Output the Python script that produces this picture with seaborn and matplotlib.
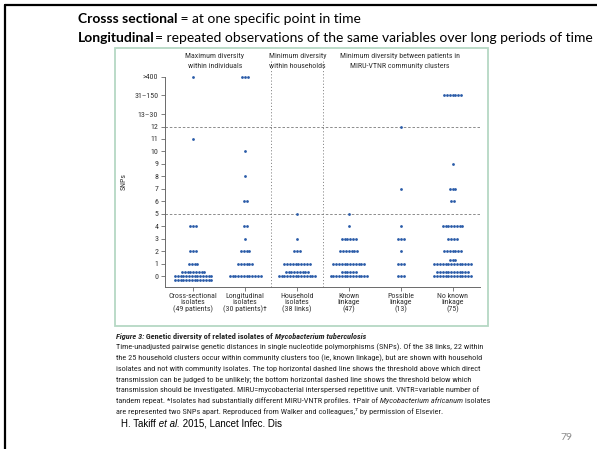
import matplotlib
matplotlib.use("Agg")
import matplotlib.pyplot as plt
import matplotlib.font_manager as fm
from matplotlib.patches import Rectangle
from matplotlib.lines import Line2D
import pandas as pd
import seaborn as sns

# ---------------------------------------------------------------- data
groups = ["Cross-sectional", "Longitudinal", "Household",
          "Known linkage", "Possible linkage", "No known linkage"]
group_labels = ["Cross-sectional\nisolates\n(49 patients)",
                "Longitudinal\nisolates\n(30 patients)\u2020",
                "Household\nisolates\n(38 links)",
                "Known\nlinkage\n(47)",
                "Possible\nlinkage\n(13)",
                "No known\nlinkage\n(75)"]
snp_bins = ["0", "1", "2", "3", "4", "5", "6", "7", "8", "9", "10", "11", "12",
            "13\u201330", "31\u2013150", ">400"]

# number of isolate pairs in each SNP bin (same order as snp_bins)
cross_sectional = [37, 4, 3, 0, 3, 0, 0, 0, 0, 0, 0, 1, 0, 0, 0, 1]
longitudinal = [12, 6, 4, 1, 2, 0, 2, 0, 1, 0, 1, 0, 0, 0, 0, 3]
household = [23, 10, 3, 1, 0, 1, 0, 0, 0, 0, 0, 0, 0, 0, 0, 0]
known_linkage = [20, 12, 7, 6, 1, 1, 0, 0, 0, 0, 0, 0, 0, 0, 0, 0]
possible_linkage = [3, 3, 1, 3, 1, 0, 0, 1, 0, 0, 0, 0, 1, 0, 0, 0]
no_known_linkage = [26, 17, 7, 4, 8, 0, 2, 3, 0, 1, 0, 0, 0, 0, 7, 0]

thresholds = [5, 12]

panel_titles = [("Maximum diversity", "within individuals"),
                ("Minimum diversity", "within households"),
                ("Minimum diversity between patients in", "MIRU-VTNR community clusters")]

slide_lines = [("Crosss sectional", " = at one specific point in time"),
               ("Longitudinal", "= repeated observations of the same variables over long periods of time")]

caption_lines = [
    "Time-unadjusted pairwise genetic distances in single nucleotide polymorphisms (SNPs). Of the 38 links, 22 within",
    "the 25 household clusters occur within community clusters too (ie, known linkage), but are shown with household",
    "isolates and not with community isolates. The top horizontal dashed line shows the threshold above which direct",
    "transmission can be judged to be unlikely; the bottom horizontal dashed line shows the threshold below which",
    "transmission should be investigated. MIRU=mycobacterial interspersed repetitive unit. VNTR=variable number of",
]

# ---------------------------------------------------------------- fonts
names = {f.name for f in fm.fontManager.ttflist}


def pick(*cands):
    for c in cands:
        if c in names:
            return c
    return "DejaVu Sans"


NARROW = pick("Roboto Condensed", "Liberation Sans Narrow", "Roboto", "Open Sans")
SLIDE = pick("Lato", "Open Sans")
ARIAL = pick("Liberation Sans", "DejaVu Sans")

sns.set_theme(style="ticks")
plt.rcParams["font.family"] = [NARROW, "DejaVu Sans"]

# ---------------------------------------------------------------- layout helpers
W, H = 597, 449
fig = plt.figure(figsize=(W / 100, H / 100), dpi=100)
fig.patch.set_facecolor("white")
R = fig.canvas.get_renderer()


def fx(x):
    return x / W


def fy(y):
    return 1 - y / H


def width_of(text, **kw):
    t = fig.text(0, 0, text, **kw)
    w = t.get_window_extent(R).width
    t.remove()
    return w


def fit_size(text, target, base=8, **kw):
    return base * target / width_of(text, fontsize=base, **kw)


def segments(x, y, segs, size, color, family, va="center_baseline"):
    cur = x
    for s, props in segs:
        t = fig.text(fx(cur), fy(y), s, fontsize=size, color=color, va=va,
                     ha="left", family=family, **props)
        cur += t.get_window_extent(R).width
    return cur


# ---------------------------------------------------------------- slide frame
fig.add_artist(Line2D([fx(5), 1], [fy(4.5), fy(4.5)], color="black", lw=1.6,
                      transform=fig.transFigure))
fig.add_artist(Line2D([fx(5), fx(5)], [fy(4.5), 0], color="black", lw=1.6,
                      transform=fig.transFigure))

# slide headline text
bold = {"fontweight": "bold"}
fam_slide = [SLIDE, "DejaVu Sans"]
w_try = (width_of(slide_lines[1][0], fontsize=10, family=fam_slide, fontweight="bold")
         + width_of(slide_lines[1][1], fontsize=10, family=fam_slide))
slide_fs = 10 * 514 / w_try
for (b, rtext), yy in zip(slide_lines, [18, 36.5]):
    segments(78, yy, [(b, bold), (rtext, {})], slide_fs, "black", fam_slide)

# green figure frame
fig.add_artist(Rectangle((fx(115), fy(325.6)), (488 - 115) / W, (325.6 - 48) / H,
                         transform=fig.transFigure, fill=False,
                         ec="#b5d8c4", lw=1.3))

# ---------------------------------------------------------------- chart
chart_fam = [NARROW, "DejaVu Sans"]
chart_fs = fit_size(panel_titles[2][0], 119, family=chart_fam)

bin_pos = dict(zip(snp_bins, list(range(13)) + [13, 14.5, 16]))
counts = dict(zip(groups, [cross_sectional, longitudinal, household,
                           known_linkage, possible_linkage, no_known_linkage]))

ROW_CAP = 14     # dots per row before a new row is started
DX = 0.054       # horizontal pitch of dots (category units)
DY = 0.32        # vertical pitch of stacked rows (axis units)


def dot_offsets(n):
    rows = [ROW_CAP] * (n // ROW_CAP) + ([n % ROW_CAP] if n % ROW_CAP else [])
    shift = (len(rows) - 1) // 2
    out = []
    for r, k in enumerate(rows):
        for j in range(k):
            out.append(((j - (k - 1) / 2) * DX, (r - shift) * DY))
    return out


records = []
for gi, g in enumerate(groups):
    for b, n in zip(snp_bins, counts[g]):
        for ox, oy in dot_offsets(n):
            records.append({"group": g, "snps": b,
                            "x": gi + ox, "y": bin_pos[b] + oy})
df = pd.DataFrame(records)

ax = fig.add_axes([fx(164.5), fy(286.6), (479.6 - 164.5) / W, (286.6 - 76.6) / H])
ax.set_facecolor("none")
ax.set_xlim(-0.555, 5.52)
ax.set_ylim(-0.83, 16)

line_kw = dict(color="#7a7a7a", lw=0.6)
for t in thresholds:
    ax.axhline(t, ls=(0, (3, 2.2)), zorder=1, **line_kw)
for xv in (1.5, 2.5):
    ax.plot([xv, xv], [-0.83, 17.3], ls=(0, (1.4, 2.4)), clip_on=False, zorder=1, **line_kw)

sns.scatterplot(data=df, x="x", y="y", ax=ax, color="#2a5ba8", s=4,
                linewidth=0, marker="o", clip_on=False, zorder=3, legend=False)

ax.set_yticks([bin_pos[b] for b in snp_bins])
ax.set_yticklabels(snp_bins)
ax.set_xticks(range(len(groups)))
ax.set_xticklabels(group_labels, linespacing=1.05)
ax.set_xlabel("")
ax.set_ylabel("SNPs", fontsize=chart_fs, color="#333333", family=chart_fam)
ax.yaxis.set_label_coords((127 - 164.5) / (479.6 - 164.5), 0.5)

for sp in ("top", "right"):
    ax.spines[sp].set_visible(False)
for sp in ("left", "bottom"):
    ax.spines[sp].set_color("#6a6a6a")
    ax.spines[sp].set_linewidth(0.7)
ax.tick_params(axis="both", length=3, width=0.6, color="#6a6a6a",
               labelsize=chart_fs, labelcolor="#333333", pad=1.5)
for lab in ax.get_xticklabels() + ax.get_yticklabels():
    lab.set_family(chart_fam)

for (l1, l2), cx in zip(panel_titles, [214.7, 297.5, 400]):
    fig.text(fx(cx), fy(55.8), l1, ha="center", va="center_baseline",
             fontsize=chart_fs, color="#333333", family=chart_fam)
    fig.text(fx(cx), fy(65.2), l2, ha="center", va="center_baseline",
             fontsize=chart_fs, color="#333333", family=chart_fam)

# ---------------------------------------------------------------- caption
cap_fs = fit_size(caption_lines[1], 367, family=chart_fam)
cap_col = "#262626"
segments(116, 336.2,
         [("Figure 3:", {"fontweight": "bold", "fontstyle": "italic"}),
          (" Genetic diversity of related isolates of", bold),
          (" Mycobacterium tuberculosis", {"fontweight": "bold", "fontstyle": "italic"})],
         cap_fs, cap_col, chart_fam)
y0 = 346.8
for i, line in enumerate(caption_lines):
    fig.text(fx(116), fy(y0 + 10.7 * i), line, fontsize=cap_fs, color=cap_col,
             va="center_baseline", ha="left", family=chart_fam)
segments(116, y0 + 10.7 * 5,
         [("tandem repeat. *Isolates had substantially different MIRU-VNTR profiles. \u2020Pair of", {}),
          (" Mycobacterium africanum", {"fontstyle": "italic"}),
          (" isolates", {})],
         cap_fs, cap_col, chart_fam)
segments(116, y0 + 10.7 * 6,
         [("are represented two SNPs apart. Reproduced from Walker and colleagues,\u2077", {}),
          (" by permission of Elsevier.", {})],
         cap_fs, cap_col, chart_fam)

# citation and slide number
fam_arial = [ARIAL, "DejaVu Sans"]
ital = {"fontstyle": "italic"}
cite = [("H. Takiff", {}), (" et al.", ital), (" 2015, Lancet Infec. Dis", {})]
w_c = sum(width_of(s, fontsize=10, family=fam_arial, **p) for s, p in cite)
segments(121, 423, cite, 10 * 161 / w_c, "black", fam_arial)

fig.text(fx(560), fy(436), "79", fontsize=7.5, color="#8c8c8c",
         family=fam_slide, ha="left", va="center_baseline")

fig.savefig("out.png", dpi=100, facecolor="white")
